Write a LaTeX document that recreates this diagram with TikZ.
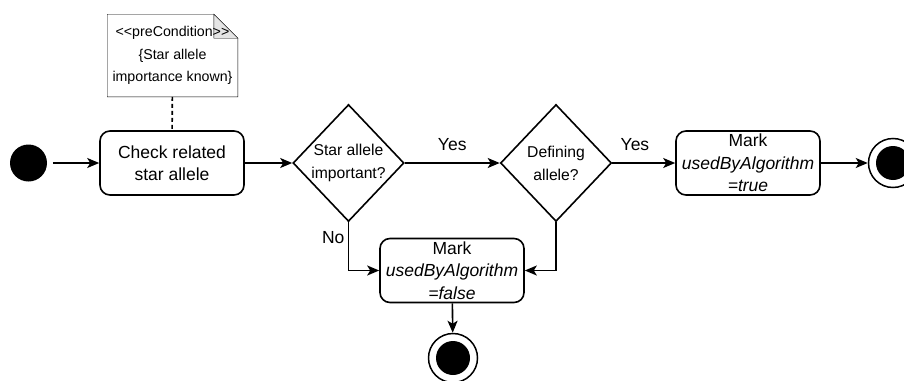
\documentclass[tikz,border=0pt]{standalone}
\usepackage{fontspec}
\setmainfont{Liberation Sans}
\usetikzlibrary{shapes.geometric,arrows.meta,backgrounds}
\tikzset{
  action/.style={draw, rounded corners=10pt, minimum width=144pt, minimum height=64pt,
    inner sep=0pt, align=center, font=\fontsize{17.5}{22.5}\selectfont},
  decision/.style={draw, diamond, aspect=0.95, minimum width=111pt, minimum height=117pt,
    inner sep=0pt, align=center, font=\fontsize{15.7}{23}\selectfont},
  note/.style={minimum width=129pt, minimum height=81pt, inner sep=0pt, align=center,
    font=\fontsize{14.2}{22.5}\selectfont},
  initial/.style={circle, fill=black, minimum size=37pt, inner sep=0pt},
  final/.style={circle, draw, line width=1.5pt, minimum size=49pt, inner sep=0pt,
    path picture={\fill (path picture bounding box.center) circle (17pt);}},
  flow/.style={-{Stealth[length=12pt,width=10pt,inset=3pt]}},
  guard/.style={font=\fontsize{17.5}{21}\selectfont}
}

\begin{document}
\begin{tikzpicture}[x=1pt, y=-1pt, line width=1.6pt]
  \useasboundingbox (0,0) rectangle (904,380);
  \def\row{163}
  \def\fold{24pt}

  % Nodes
  \node[initial] (start) at (28.5,\row) {};
  \node[action] (check) at (172,\row) {Check related\\star allele};
  \node[note] (pre) at (172.5,55.5) {<\kern0pt<preCondition>\kern0pt>\\\{Star allele\\importance known\}};
  \node[decision] (imp) at (348.5,\row) {Star allele\\important?};
  \node[decision] (def) at (556,\row) {Defining\\allele?};
  \node[action] (mtrue) at (748,\row) {Mark\\\textit{usedByAlgorithm}\\\textit{=true}};
  \node[action] (mfalse) at (452,270.5) {Mark\\\textit{usedByAlgorithm}\\\textit{=false}};
  \node[final] (end1) at (893,\row) {};
  \node[final] (end2) at (453,358) {};

  % Note outline with folded corner
  \begin{scope}[on background layer]
    \draw[fill=white] (pre.north west) -- ([xshift=-\fold]pre.north east)
      -- ([yshift=-\fold]pre.north east) -- (pre.south east) -- (pre.south west) -- cycle;
    \draw[fill=gray!20] ([xshift=-\fold]pre.north east) -- ([xshift=-\fold, yshift=-\fold]pre.north east)
      -- ([yshift=-\fold]pre.north east) -- cycle;
  \end{scope}
  \draw[dash pattern=on 4pt off 3pt] (pre) -- (check);

  % Control flow
  \draw[flow, shorten <=5pt] (start) -- (check);
  \draw[flow] (check) -- (imp);
  \draw[flow] (imp) -- node[guard, midway, above=8pt] {Yes} (def);
  \draw[flow] (def) -- node[guard, pos=0.36, above=8pt] {Yes} (mtrue);
  \draw[flow] (mtrue) -- (end1);
  \draw[flow] (imp.south) |- node[guard, pos=0.16, left] {No} (mfalse.west);
  \draw[flow] (def.south) |- (mfalse.east);
  \draw[flow] (mfalse) -- (end2);
\end{tikzpicture}
\end{document}
